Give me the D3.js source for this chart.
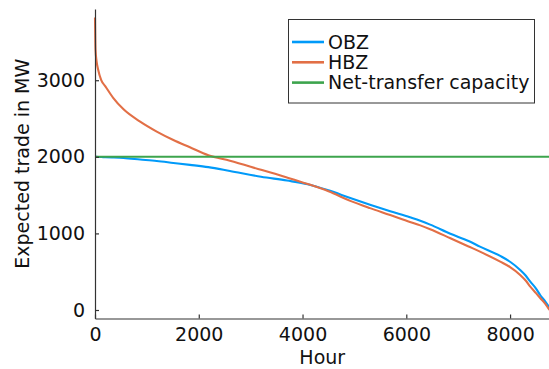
<!doctype html>
<html>
<head>
<meta charset="utf-8">
<style>
  body { margin: 0; background: #fff; }
  svg { display: block; font-family: "DejaVu Sans", sans-serif; }
</style>
</head>
<body>
<div id="chart"></div>
<script src="https://d3js.org/d3.v7.min.js"></script>
<script>
// duration curves (hour of year, MW)
var hours = [0, 10, 30, 60, 120, 200, 350, 550, 870, 1190, 1510, 1830, 2185, 2600, 3200, 3700, 4100, 4500, 4920, 5300, 5690, 6070, 6270, 6460, 6850, 7200, 7420, 7810, 8000, 8195, 8300, 8390, 8500, 8580, 8680, 8760];
var hbz = [3820, 3400, 3250, 3140, 3000, 2920, 2770, 2620, 2460, 2330, 2220, 2125, 2020, 1950, 1830, 1730, 1645, 1550, 1425, 1330, 1240, 1150, 1105, 1055, 937, 830, 762, 631, 560, 458, 385, 305, 220, 157, 80, 0];
var obz = [2000, 2000, 1999, 1998, 1997, 1996, 1992, 1985, 1965, 1945, 1920, 1895, 1865, 1815, 1740, 1690, 1642, 1562, 1462, 1375, 1290, 1210, 1165, 1115, 995, 900, 827, 706, 630, 523, 450, 370, 280, 196, 110, 30];
var ntc = 2000;

var xTicks = [0, 2000, 4000, 6000, 8000];
var yTicks = [0, 1000, 2000, 3000];

var series = [
  { name: "OBZ", color: "#009af9", values: obz },
  { name: "HBZ", color: "#e26f46", values: hbz },
  { name: "Net-transfer capacity", color: "#3da44d", values: hours.map(function() { return ntc; }) }
];

var w = 549, h = 369;
var mLeft = 95, mRight = 549.5, mTop = 9, mBottom = 318.5;

var svg = d3.select("#chart").append("svg")
  .attr("width", w)
  .attr("height", h);

var x = d3.scaleLinear().domain([0, 8760]).range([mLeft, mRight]);
var y = d3.scaleLinear().domain([-111, 3930]).range([mBottom, mTop]);

// lines
var line = d3.line()
  .x(function(d, i) { return x(hours[i]); })
  .y(function(d) { return y(d); })
  .curve(d3.curveMonotoneX);

svg.selectAll("path.serie")
  .data(series)
  .enter()
  .append("path")
  .attr("class", "serie")
  .attr("d", function(d) { return line(d.values); })
  .attr("fill", "none")
  .attr("stroke", function(d) { return d.color; })
  .attr("stroke-width", 2.1)
  .attr("stroke-linejoin", "round");

// axes
var xAxis = svg.append("g")
  .attr("transform", "translate(0," + mBottom + ")")
  .call(d3.axisBottom(x).tickValues(xTicks).tickFormat(d3.format("d")).tickSizeInner(-4).tickSizeOuter(0).tickPadding(9));
var yAxis = svg.append("g")
  .attr("transform", "translate(" + mLeft + ",0)")
  .call(d3.axisLeft(y).tickValues(yTicks).tickFormat(d3.format("d")).tickSizeInner(-4).tickSizeOuter(0).tickPadding(10));

[xAxis, yAxis].forEach(function(a) {
  a.select(".domain").attr("stroke", "#333").attr("stroke-width", 1.2);
  a.selectAll(".tick line").attr("stroke", "#333").attr("stroke-width", 1.2);
  a.selectAll("text")
    .attr("fill", "#111")
    .style("font-size", "19px")
    .style("font-family", "DejaVu Sans");
});

svg.append("text")
  .attr("x", (mLeft + mRight) / 2)
  .attr("y", 364)
  .attr("text-anchor", "middle")
  .attr("fill", "#111")
  .style("font-size", "19px")
  .text("Hour");

svg.append("text")
  .attr("transform", "translate(29," + ((mTop + mBottom) / 2) + ") rotate(-90)")
  .attr("text-anchor", "middle")
  .attr("fill", "#111")
  .style("font-size", "19px")
  .text("Expected trade in MW");

// legend
var lg = svg.append("g");
lg.append("rect")
  .attr("x", 288.5).attr("y", 19.5)
  .attr("width", 246).attr("height", 83.5)
  .attr("fill", "#fff")
  .attr("stroke", "#333")
  .attr("stroke-width", 1);

var item = lg.selectAll("g.item")
  .data(series)
  .enter()
  .append("g")
  .attr("class", "item")
  .attr("transform", function(d, i) { return "translate(0," + (42 + i * 20.3) + ")"; });
item.append("line")
  .attr("x1", 292).attr("x2", 324)
  .attr("stroke", function(d) { return d.color; })
  .attr("stroke-width", 2.6);
item.append("text")
  .attr("x", 328)
  .attr("dy", "0.35em")
  .attr("fill", "#111")
  .style("font-size", "19px")
  .text(function(d) { return d.name; });
</script>
</body>
</html>
